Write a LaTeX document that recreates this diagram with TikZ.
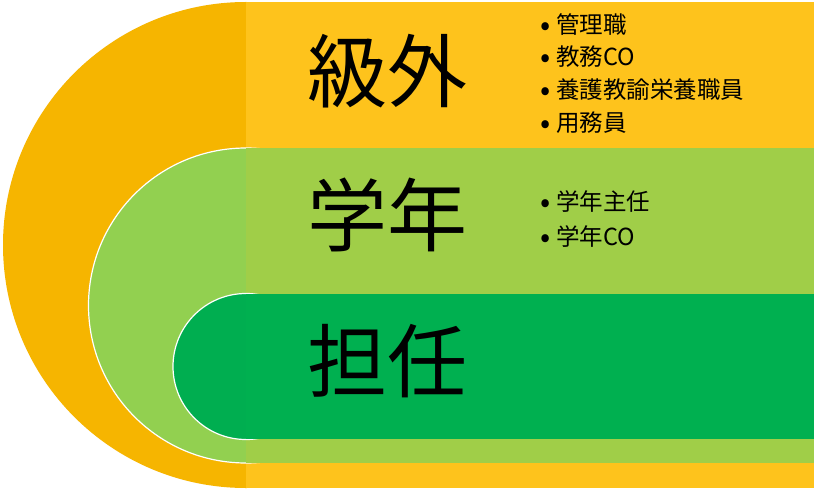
\documentclass[tikz,border=0pt]{standalone}
\usepackage{fontspec}
\newfontfamily\jp{Noto Sans CJK JP}
\definecolor{semiO}{RGB}{246,181,0}
\definecolor{rectO}{RGB}{254,195,28}
\definecolor{semiLG}{RGB}{146,208,80}
\definecolor{rectLG}{RGB}{160,206,72}
\definecolor{semiDG}{RGB}{0,174,80}
\definecolor{rectDG}{RGB}{0,176,80}
\newcommand{\bul}{\makebox[17pt][l]{\hspace*{1pt}\fontsize{30}{30}\selectfont\raisebox{-2pt}{•}}}
\tikzset{
  big/.style={font=\jp\fontsize{80}{80}\selectfont, inner sep=0pt, anchor=center},
  item/.style={font=\jp\fontsize{23.5}{23.5}\selectfont, inner sep=0pt, anchor=west},
  arcedge/.style={draw=white, line width=1.2pt}
}
\begin{document}
\begin{tikzpicture}[x=1pt,y=-1pt]
\useasboundingbox[fill=white] (0,0) rectangle (816,492);
% outer level
\fill[semiO] (246,245) circle[radius=243];
\fill[rectO] (246,2) rectangle (814,488);
% middle level
\filldraw[fill=semiLG, arcedge] (246,305.5) circle[radius=157.5];
\fill[rectLG] (246,148) rectangle (814,463);
% inner level
\filldraw[fill=semiDG, arcedge] (246,366.5) circle[radius=73];
\fill[rectDG] (246,294) rectangle (814,439);
% titles
\node[big] (t1) at (387,71) {級外};
\node[big] (t2) at (387,215) {学年};
\node[big] (t3) at (387,361) {担任};
% bullet lists
\node[item] (a1) at (539,25) {\bul 管理職};
\node[item] (a2) at (539,57) {\bul 教務CO};
\node[item] (a3) at (539,90) {\bul 養護教諭栄養職員};
\node[item] (a4) at (539,123) {\bul 用務員};
\node[item] (b1) at (539,202) {\bul 学年主任};
\node[item] (b2) at (539,237) {\bul 学年CO};
\end{tikzpicture}
\end{document}
